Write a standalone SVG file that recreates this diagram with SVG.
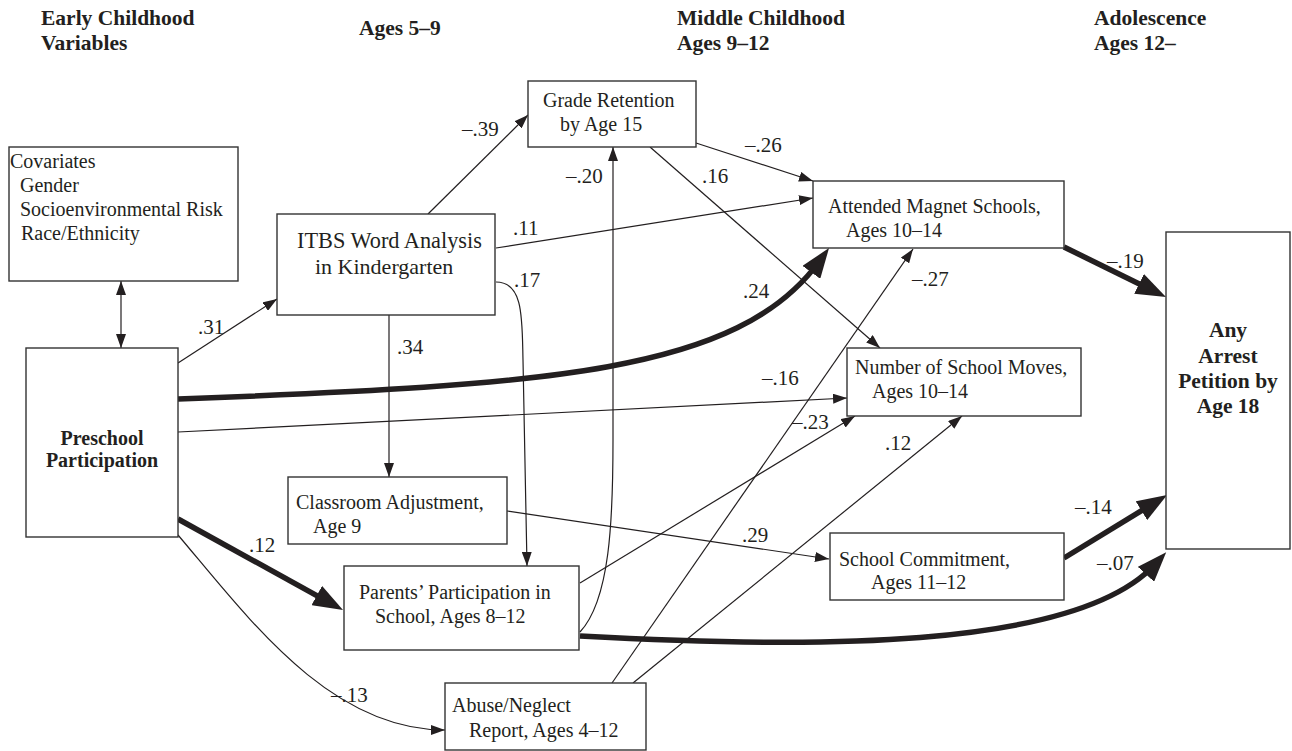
<svg xmlns="http://www.w3.org/2000/svg" width="1292" height="751" viewBox="0 0 1292 751">
<style>
.box{fill:#fff;stroke:#333;stroke-width:1.4}
.t{font-family:"Liberation Serif","Times New Roman",serif;font-size:20px;fill:#231f20}
.l{font-family:"Liberation Serif","Times New Roman",serif;font-size:21px;fill:#231f20}
.b{font-weight:bold}
.h{font-family:"Liberation Serif","Times New Roman",serif;font-size:21.5px;font-weight:bold;fill:#231f20}
.m{text-anchor:middle}
.thin{fill:none;stroke:#231f20;stroke-width:1.2;marker-end:url(#ah)}
.thick{fill:none;stroke:#231f20;stroke-width:5.5;marker-end:url(#AH)}
</style>
<defs>
<marker id="ah" markerUnits="userSpaceOnUse" markerWidth="14" markerHeight="10" refX="14" refY="5" orient="auto-start-reverse" viewBox="0 0 14 10">
<path d="M0,0 L14,5 L0,10 z" fill="#231f20"/>
</marker>
<marker id="AH" markerUnits="userSpaceOnUse" markerWidth="30" markerHeight="22" refX="14" refY="11" orient="auto" viewBox="0 0 30 22">
<path d="M0,0 L30,11 L0,22 z" fill="#231f20"/>
</marker>
</defs>
<rect width="1292" height="751" fill="#fff"/>

<g id="headers">
<text class="h" x="41" y="25">Early Childhood</text>
<text class="h" x="41" y="50">Variables</text>
<text class="h" x="359" y="35">Ages 5–9</text>
<text class="h" x="677" y="25">Middle Childhood</text>
<text class="h" x="677" y="50">Ages 9–12</text>
<text class="h" x="1094" y="25">Adolescence</text>
<text class="h" x="1094" y="50">Ages 12–</text>
</g>

<g id="connectors">
<path class="thin" d="M121,281 L121,348" marker-start="url(#ah)"/>
<path class="thin" d="M178,363 L277,299"/>
<path class="thin" d="M428,214 L528,115"/>
<path class="thin" d="M389,315 L389,477"/>
<path class="thin" d="M496,248 L813,198"/>
<path class="thin" d="M496,282 C524,282 522,320 523,360 L527,566"/>
<path class="thin" d="M580,632 C610,600 613,520 613,440 L613,147"/>
<path class="thin" d="M696,143 L813,181"/>
<path class="thin" d="M650,147 L880,348"/>
<path class="thin" d="M178,432 L847,398"/>
<path class="thin" d="M178,535 C250,620 330,730 445,730"/>
<path class="thin" d="M507,511 L829,559"/>
<path class="thin" d="M580,583 L855,416"/>
<path class="thin" d="M612,683 L913,249"/>
<path class="thin" d="M633,683 L962,416"/>
<path class="thick" d="M178,399 C550,385 738,373 819.6,261"/>
<path class="thick" d="M178,519 L329,602.3"/>
<path class="thick" d="M1064,247 L1151.6,290"/>
<path class="thick" d="M1064,558 L1153.4,503.4"/>
<path class="thick" d="M580,636 C800,648 1075,652 1155.4,564"/>
</g>

<g id="labels">
<text class="l" x="198" y="334">.31</text>
<text class="l" x="462" y="136">–.39</text>
<text class="l" x="566" y="183">–.20</text>
<text class="l" x="745" y="152">–.26</text>
<text class="l" x="702" y="183">.16</text>
<text class="l" x="513" y="235">.11</text>
<text class="l" x="514" y="287">.17</text>
<text class="l" x="397" y="354">.34</text>
<text class="l" x="743" y="298">.24</text>
<text class="l" x="912" y="286">–.27</text>
<text class="l" x="1107" y="268">–.19</text>
<text class="l" x="762" y="385">–.16</text>
<text class="l" x="792" y="429">–.23</text>
<text class="l" x="885" y="450">.12</text>
<text class="l" x="249" y="552">.12</text>
<text class="l" x="742" y="542">.29</text>
<text class="l" x="1075" y="514">–.14</text>
<text class="l" x="1097" y="570">–.07</text>
<text class="l" x="331" y="702">–.13</text>
</g>

<g id="covariates">
<rect class="box" x="9" y="147" width="229" height="134"/>
<text class="t" x="10" y="168">Covariates</text>
<text class="t" x="20" y="192">Gender</text>
<text class="t" x="20" y="216">Socioenvironmental Risk</text>
<text class="t" x="21" y="240">Race/Ethnicity</text>
</g>

<g id="preschool">
<rect class="box" x="26" y="348" width="152" height="189"/>
<text class="t b m" x="102" y="445">Preschool</text>
<text class="t b m" x="102" y="467">Participation</text>
</g>

<g id="itbs">
<rect class="box" x="277" y="214" width="218" height="101"/>
<text class="t" x="297" y="248" style="font-size:22.3px">ITBS Word Analysis</text>
<text class="t" x="315" y="274" style="font-size:22px">in Kindergarten</text>
</g>

<g id="grade-retention">
<rect class="box" x="528" y="81" width="168" height="66"/>
<text class="t" x="543" y="107">Grade Retention</text>
<text class="t" x="560" y="131">by Age 15</text>
</g>

<g id="magnet">
<rect class="box" x="813" y="181" width="251" height="67"/>
<text class="t" x="828" y="213">Attended Magnet Schools,</text>
<text class="t" x="846" y="237">Ages 10–14</text>
</g>

<g id="moves">
<rect class="box" x="847" y="348" width="234" height="68"/>
<text class="t" x="855" y="374">Number of School Moves,</text>
<text class="t" x="872" y="398">Ages 10–14</text>
</g>

<g id="arrest">
<rect class="box" x="1166" y="232" width="124" height="317"/>
<text class="t b m" x="1228" y="337" style="font-size:21.5px">Any</text>
<text class="t b m" x="1228" y="363" style="font-size:21.5px">Arrest</text>
<text class="t b m" x="1228" y="388" style="font-size:21.5px">Petition by</text>
<text class="t b m" x="1228" y="413" style="font-size:21.5px">Age 18</text>
</g>

<g id="classroom">
<rect class="box" x="288" y="477" width="219" height="67"/>
<text class="t" x="296" y="509">Classroom Adjustment,</text>
<text class="t" x="313" y="533">Age 9</text>
</g>

<g id="parents">
<rect class="box" x="344" y="566" width="235" height="84"/>
<text class="t" x="359" y="599">Parents’ Participation in</text>
<text class="t" x="375" y="623">School, Ages 8–12</text>
</g>

<g id="commitment">
<rect class="box" x="830" y="533" width="234" height="67"/>
<text class="t" x="839" y="566">School Commitment,</text>
<text class="t" x="871" y="589">Ages 11–12</text>
</g>

<g id="abuse">
<rect class="box" x="445" y="683" width="201" height="67"/>
<text class="t" x="452" y="712">Abuse/Neglect</text>
<text class="t" x="469" y="737">Report, Ages 4–12</text>
</g>
</svg>
